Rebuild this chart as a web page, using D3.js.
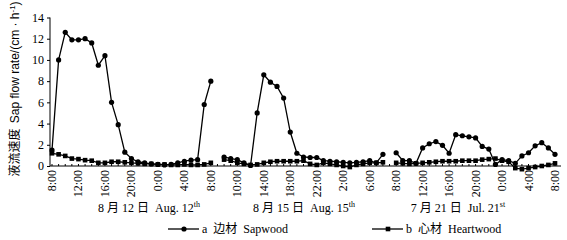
<html>
<head>
  <meta charset="utf8">
  <title>Sap flow</title>
  <style>
  * { margin: 0; padding: 0; }
  body { background: #fff; }
  svg text { white-space: pre; }
  </style>
</head>
<body>
  <script src="https://cdn.jsdelivr.net/npm/d3@7"></script>
  <script>
  var w = 567;
  var h = 240;

  // hourly labels of one day, 8:00 to next 8:00
  var hours = ["8:00", "9:00", "10:00", "11:00", "12:00", "13:00", "14:00", "15:00", "16:00",
    "17:00", "18:00", "19:00", "20:00", "21:00", "22:00", "23:00", "0:00", "1:00", "2:00",
    "3:00", "4:00", "5:00", "6:00", "7:00", "8:00"];
  var days = ["8 月 12 日", "8 月 15 日", "7 月 21 日"];
  var daysEn = ["Aug. 12", "Aug. 15", "Jul. 21"];
  var daysSup = ["th", "th", "st"];
  var seriesNames = ["a  边材  Sapwood", "b  心材  Heartwood"];

  var sapwood1 = [1.5, 10, 12.6, 11.9, 11.9, 12.0, 11.6, 9.5, 10.4, 6.0, 3.9, 1.3, 0.7, 0.4, 0.3, 0.2, 0.15, 0.1, 0.15, 0.3, 0.45, 0.55, 0.6, 5.8, 8.0];
  var sapwood2 = [0.85, 0.7, 0.6, 0.3, 0.05, 5.0, 8.6, 7.9, 7.5, 6.4, 3.2, 1.2, 0.85, 0.8, 0.8, 0.5, 0.45, 0.4, 0.35, 0.3, 0.35, 0.4, 0.5, 0.3, 1.1];
  var sapwood3 = [1.25, 0.5, 0.5, 0.25, 1.7, 2.1, 2.3, 1.95, 1.2, 2.95, 2.85, 2.75, 2.65, 1.85, 1.6, 0.15, 0.6, 0.5, 0.25, 0.95, 1.25, 1.9, 2.2, 1.7, 1.1];
  var heartwood1 = [1.2, 1.1, 0.95, 0.7, 0.65, 0.55, 0.5, 0.3, 0.3, 0.4, 0.4, 0.35, 0.3, 0.25, 0.2, 0.2, 0.15, 0.15, 0.1, 0.1, 0.15, 0.1, 0.1, 0.15, 0.3];
  var heartwood2 = [0.6, 0.5, 0.3, 0.2, 0.1, 0.15, 0.3, 0.4, 0.45, 0.45, 0.45, 0.45, 0.5, 0.2, 0.1, 0.3, 0.2, 0.1, 0.0, -0.1, 0.1, 0.2, 0.3, 0.3, 0.35];
  var heartwood3 = [0.3, 0.25, 0.2, 0.25, 0.3, 0.35, 0.4, 0.45, 0.45, 0.45, 0.5, 0.5, 0.5, 0.6, 0.65, 0.7, 0.5, 0.4, -0.2, -0.3, -0.2, -0.1, 0.0, 0.1, 0.25];
  var yTicks = [0, 2, 4, 6, 8, 10, 12, 14];

  var sapwood = [sapwood1, sapwood2, sapwood3];
  var heartwood = [heartwood1, heartwood2, heartwood3];
  // each day is 25 hourly points, one empty slot between days
  var segStart = [0, 26, 52];
  var nIdx = 77;

  var xScale = d3.scaleLinear().domain([0, nIdx - 1]).range([52, 555]);
  var yScale = d3.scaleLinear().domain([0, 14]).range([166, 17.5]);

  var svg = d3.select("body").append("svg")
    .attr("width", w).attr("height", h)
    .style("font-family", "'Liberation Serif', 'Noto Sans CJK SC', serif");

  //y axis
  var yAxis = d3.axisLeft(yScale).tickValues(yTicks).tickSize(3).tickPadding(3);
  var gy = svg.append("g").attr("transform", "translate(50,0)").call(yAxis);
  gy.select(".domain").attr("d", "M0," + yScale(0) + "V" + yScale(14));
  gy.selectAll("text").attr("font-size", "12px").attr("font-family", "'Liberation Serif', serif");

  //x axis
  var labelIdx = d3.range(nIdx).filter(function(i) {
    return i % 4 === 0;
  });
  function hourLabel(i) {
    var s = i < 26 ? 0 : (i < 52 ? 1 : 2);
    return hours[i - segStart[s]];
  }
  var gx = svg.append("g").attr("transform", "translate(0," + yScale(0) + ")");
  gx.append("line").attr("x1", 50).attr("x2", 561).attr("stroke", "#000");
  gx.selectAll("line.minor")
    .data(d3.range(nIdx))
    .enter().append("line")
    .attr("class", "minor")
    .attr("x1", function(d) { return xScale(d); })
    .attr("x2", function(d) { return xScale(d); })
    .attr("y1", 0).attr("y2", -2)
    .attr("stroke", "#000");
  gx.selectAll("text")
    .data(labelIdx)
    .enter().append("text")
    .attr("transform", function(d) {
      return "translate(" + (xScale(d) + 4) + ",4) rotate(-90)";
    })
    .attr("text-anchor", "end")
    .attr("font-size", "12px")
    .text(hourLabel);

  //lines
  var line = d3.line()
    .x(function(d) { return xScale(d[0]); })
    .y(function(d) { return yScale(d[1]); });
  function pts(vals, s) {
    return vals.map(function(v, i) { return [segStart[s] + i, v]; });
  }
  [sapwood, heartwood].forEach(function(series, k) {
    series.forEach(function(vals, s) {
      var p = pts(vals, s);
      svg.append("path").attr("d", line(p))
        .attr("fill", "none").attr("stroke", "#000").attr("stroke-width", 1.3);
      if (k === 0) {
        svg.selectAll(null).data(p).enter().append("circle")
          .attr("cx", function(d) { return xScale(d[0]); })
          .attr("cy", function(d) { return yScale(d[1]); })
          .attr("r", 2.6);
      } else {
        svg.selectAll(null).data(p).enter().append("rect")
          .attr("x", function(d) { return xScale(d[0]) - 2.3; })
          .attr("y", function(d) { return yScale(d[1]) - 2.3; })
          .attr("width", 4.6).attr("height", 4.6);
      }
    });
  });

  //day labels
  var dayCenter = [149, 304, 458];
  days.forEach(function(d, i) {
    var t = svg.append("text")
      .attr("x", dayCenter[i]).attr("y", 212)
      .attr("text-anchor", "middle")
      .attr("font-size", "12px");
    t.append("tspan").text(d + "  " + daysEn[i]);
    t.append("tspan").attr("dy", -5).attr("font-size", "8px").text(daysSup[i]);
  });

  //y title
  var yt = svg.append("text")
    .attr("transform", "translate(19,89) rotate(-90)")
    .attr("text-anchor", "middle")
    .attr("font-size", "12px");
  yt.append("tspan").attr("font-family", "'Noto Sans CJK SC', serif").text("液流速度  ");
  yt.append("tspan").attr("font-family", "'Liberation Sans', sans-serif").text("Sap flow rate/(cm · h");
  yt.append("tspan").attr("font-family", "'Liberation Sans', sans-serif").attr("dy", -4).attr("font-size", "8px").text("-1");
  yt.append("tspan").attr("font-family", "'Liberation Sans', sans-serif").attr("dy", 4).text(")");

  //legend
  var legX = [168, 372];
  seriesNames.forEach(function(name, k) {
    var g = svg.append("g").attr("transform", "translate(" + legX[k] + ",229)");
    g.append("line").attr("x1", 0).attr("x2", 31).attr("stroke", "#000").attr("stroke-width", 1.3);
    if (k === 0) g.append("circle").attr("cx", 16).attr("r", 2.6);
    else g.append("rect").attr("x", 13.7).attr("y", -2.3).attr("width", 4.6).attr("height", 4.6);
    g.append("text").attr("x", 34).attr("y", 4).attr("font-size", "12px").text(name);
  });
  </script>
</body>
</html>
